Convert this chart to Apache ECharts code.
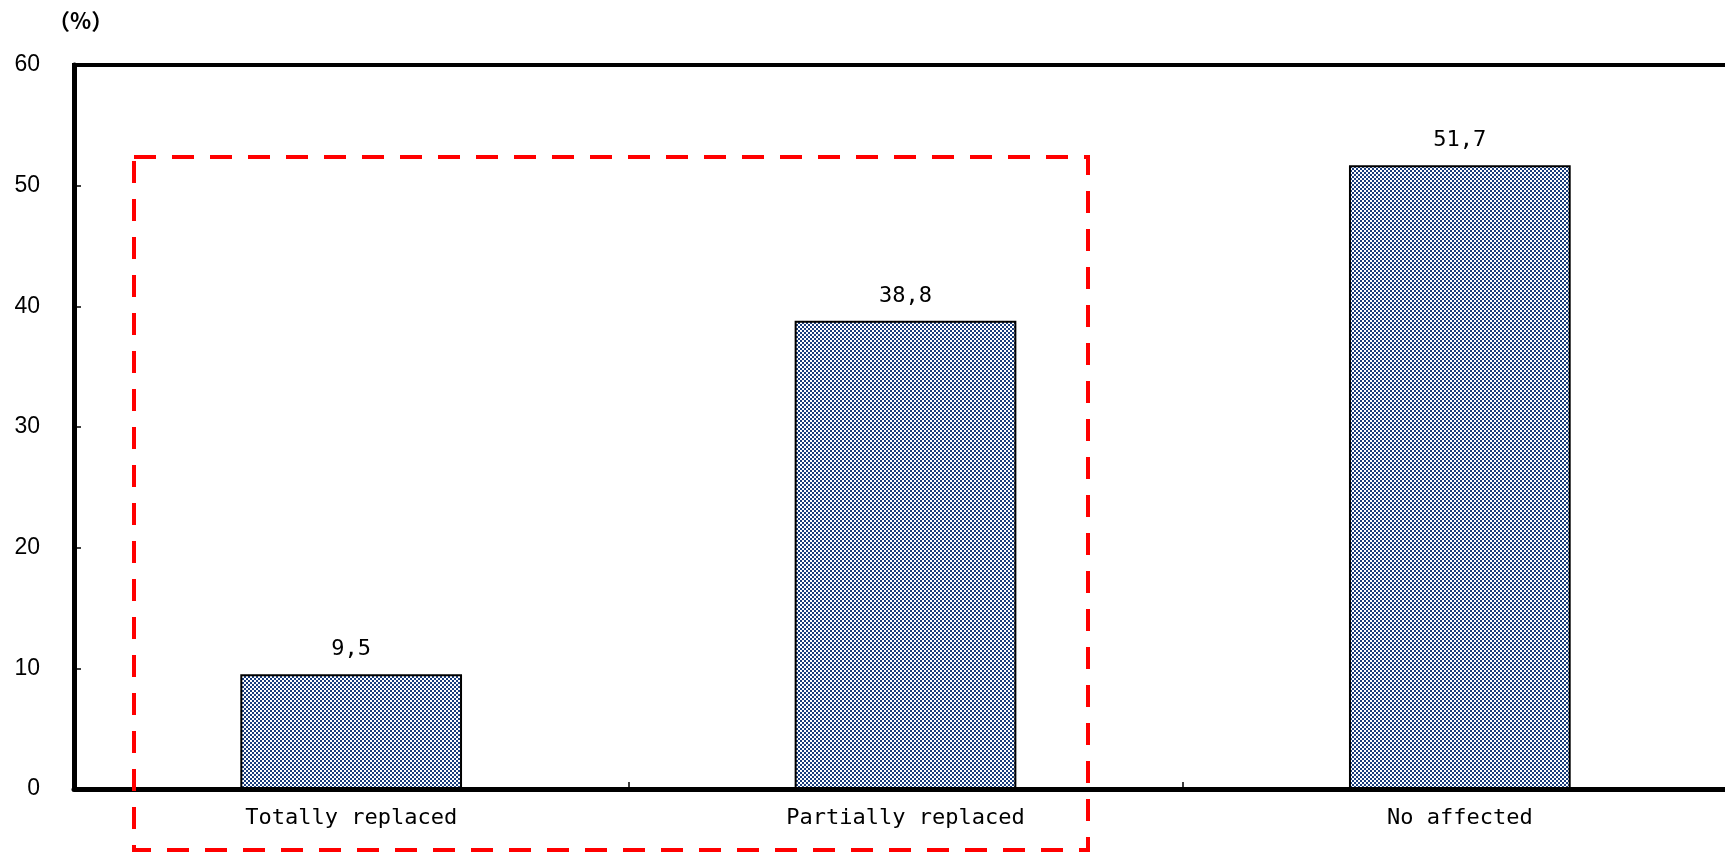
<!DOCTYPE html>
<html>
<head>
<meta charset="utf-8">
<script src="https://cdn.jsdelivr.net/npm/echarts@6/dist/echarts.min.js"></script>
<style>
  html, body { margin: 0; padding: 0; background: #fff; overflow: hidden; }
  #chart { width: 1725px; height: 852px; }
</style>
</head>
<body>
<div id="chart"></div>
<script>
// Share of respondents by how much their work was affected (%)
const categories = ['Totally replaced', 'Partially replaced', 'No affected'];
const shares = [9.5, 38.8, 51.7];
const yTicks = [0, 10, 20, 30, 40, 50, 60];

// Small navy/white checker tile used as the bar fill
function checkerTile() {
  const c = document.createElement('canvas');
  c.width = 4; c.height = 4;
  const g = c.getContext('2d');
  g.fillStyle = '#ffffff';
  g.fillRect(0, 0, 4, 4);
  g.fillStyle = '#1a3d7c';
  g.fillRect(0, 0, 2, 2);
  g.fillRect(2, 2, 2, 2);
  return c;
}

const chart = echarts.init(document.getElementById('chart'), null, { renderer: 'canvas' });

const monoFont = '"DejaVu Sans Mono", "Liberation Mono", monospace';

chart.setOption({
  animation: false,
  backgroundColor: '#ffffff',
  // plot area runs slightly past the right edge of the canvas
  grid: {
    left: 74, top: 65, width: 1663, height: 724,
    outerBoundsMode: 'none',
    containLabel: false,
    show: true, borderColor: '#000', borderWidth: 4, backgroundColor: 'transparent'
  },
  xAxis: {
    type: 'category',
    data: categories,
    axisLine: { lineStyle: { color: '#000', width: 5 } },
    axisTick: { show: true, inside: true, length: 7, lineStyle: { color: '#000', width: 1.5 } },
    axisLabel: { color: '#000', fontSize: 22, fontFamily: monoFont, margin: 18 },
    splitLine: { show: false }
  },
  yAxis: {
    type: 'value',
    min: yTicks[0],
    max: yTicks[yTicks.length - 1],
    interval: yTicks[1] - yTicks[0],
    axisLine: { show: true, lineStyle: { color: '#000', width: 5 } },
    axisTick: { show: true, inside: true, length: 7, lineStyle: { color: '#000', width: 1.5 } },
    axisLabel: { color: '#000', fontSize: 23, fontFamily: '"Liberation Sans", Arial, sans-serif', margin: 34 },
    splitLine: { show: false }
  },
  series: [{
    type: 'bar',
    data: shares,
    barWidth: '40%',
    itemStyle: {
      color: { image: checkerTile(), repeat: 'repeat' },
      borderColor: '#000',
      borderWidth: 2
    },
    label: {
      show: true,
      position: 'top',
      distance: 14,
      color: '#000',
      fontSize: 22,
      fontFamily: monoFont,
      formatter: p => String(p.value).replace('.', ',')
    }
  }],
  graphic: [
    {
      type: 'text',
      left: 48, top: 10,
      style: {
        text: '（%）',
        fill: '#000',
        font: 'bold 22px "Noto Sans CJK JP", sans-serif'
      }
    },
    {
      type: 'rect',
      z: 100,
      shape: { x: 134, y: 157, width: 954, height: 693 },
      style: { fill: 'none', stroke: '#ff0000', lineWidth: 4, lineDash: [22, 16] }
    }
  ]
});
</script>
</body>
</html>
